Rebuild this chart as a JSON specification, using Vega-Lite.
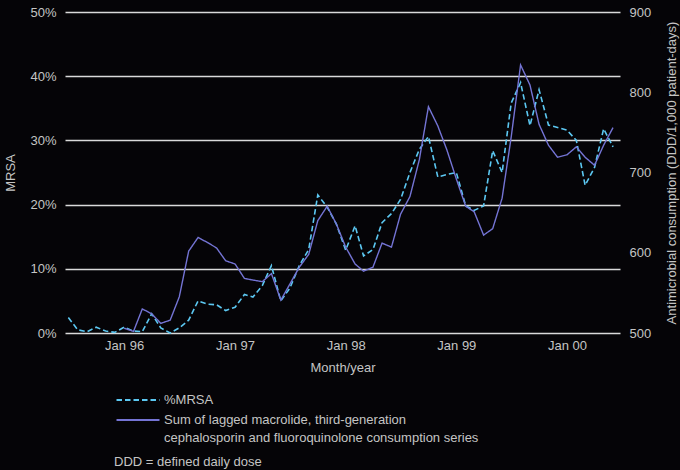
{
  "$schema": "https://vega.github.io/schema/vega-lite/v6.json",
  "autosize": "none",
  "width": 555,
  "height": 321,
  "padding": {"left": 65, "top": 12, "right": 60, "bottom": 137},
  "background": "#050407",
  "title": {
    "text": "DDD = defined daily dose",
    "orient": "bottom",
    "anchor": "start",
    "frame": "group",
    "dx": 49,
    "offset": 11,
    "fontSize": 13,
    "fontWeight": "normal",
    "color": "#c4c4c4",
    "font": "Liberation Sans"
  },
  "config": {
    "view": {"stroke": null},
    "font": "Liberation Sans",
    "axis": {
      "labelFont": "Liberation Sans",
      "titleFont": "Liberation Sans",
      "labelFontSize": 13,
      "titleFontSize": 13,
      "titleFontWeight": "normal",
      "labelColor": "#c4c4c4",
      "titleColor": "#c4c4c4",
      "domain": false,
      "ticks": false
    },
    "legend": {
      "labelFont": "Liberation Sans",
      "labelFontSize": 13,
      "labelColor": "#c4c4c4"
    }
  },
  "datasets": {
    "mrsa": [
      {"month": "1995-07-01", "mrsa": 2.4},
      {"month": "1995-08-01", "mrsa": 0.5},
      {"month": "1995-09-01", "mrsa": 0.2},
      {"month": "1995-10-01", "mrsa": 0.9},
      {"month": "1995-11-01", "mrsa": 0.3},
      {"month": "1995-12-01", "mrsa": 0.1},
      {"month": "1996-01-01", "mrsa": 0.9},
      {"month": "1996-02-01", "mrsa": 0.3},
      {"month": "1996-03-01", "mrsa": 0.2},
      {"month": "1996-04-01", "mrsa": 3.0},
      {"month": "1996-05-01", "mrsa": 0.8},
      {"month": "1996-06-01", "mrsa": 0.0},
      {"month": "1996-07-01", "mrsa": 0.8},
      {"month": "1996-08-01", "mrsa": 2.0},
      {"month": "1996-09-01", "mrsa": 5.0},
      {"month": "1996-10-01", "mrsa": 4.5},
      {"month": "1996-11-01", "mrsa": 4.4},
      {"month": "1996-12-01", "mrsa": 3.5},
      {"month": "1997-01-01", "mrsa": 4.0},
      {"month": "1997-02-01", "mrsa": 6.0},
      {"month": "1997-03-01", "mrsa": 5.6},
      {"month": "1997-04-01", "mrsa": 7.4},
      {"month": "1997-05-01", "mrsa": 10.5},
      {"month": "1997-06-01", "mrsa": 5.0},
      {"month": "1997-07-01", "mrsa": 7.0},
      {"month": "1997-08-01", "mrsa": 10.5},
      {"month": "1997-09-01", "mrsa": 13.0},
      {"month": "1997-10-01", "mrsa": 21.5},
      {"month": "1997-11-01", "mrsa": 19.6},
      {"month": "1997-12-01", "mrsa": 17.0},
      {"month": "1998-01-01", "mrsa": 12.9},
      {"month": "1998-02-01", "mrsa": 16.7},
      {"month": "1998-03-01", "mrsa": 12.0},
      {"month": "1998-04-01", "mrsa": 13.0},
      {"month": "1998-05-01", "mrsa": 17.2},
      {"month": "1998-06-01", "mrsa": 18.6},
      {"month": "1998-07-01", "mrsa": 20.8},
      {"month": "1998-08-01", "mrsa": 25.0},
      {"month": "1998-09-01", "mrsa": 28.6},
      {"month": "1998-10-01", "mrsa": 30.6},
      {"month": "1998-11-01", "mrsa": 24.3},
      {"month": "1998-12-01", "mrsa": 24.7},
      {"month": "1999-01-01", "mrsa": 25.0},
      {"month": "1999-02-01", "mrsa": 19.8},
      {"month": "1999-03-01", "mrsa": 19.1},
      {"month": "1999-04-01", "mrsa": 19.8},
      {"month": "1999-05-01", "mrsa": 28.4},
      {"month": "1999-06-01", "mrsa": 25.0},
      {"month": "1999-07-01", "mrsa": 35.8},
      {"month": "1999-08-01", "mrsa": 39.0},
      {"month": "1999-09-01", "mrsa": 32.3},
      {"month": "1999-10-01", "mrsa": 37.9},
      {"month": "1999-11-01", "mrsa": 32.4},
      {"month": "1999-12-01", "mrsa": 32.0},
      {"month": "2000-01-01", "mrsa": 31.6},
      {"month": "2000-02-01", "mrsa": 30.0},
      {"month": "2000-03-01", "mrsa": 23.0},
      {"month": "2000-04-01", "mrsa": 25.8},
      {"month": "2000-05-01", "mrsa": 31.8},
      {"month": "2000-06-01", "mrsa": 29.0}
    ],
    "ddd": [
      {"month": "1996-01-01", "ddd": 506},
      {"month": "1996-02-01", "ddd": 502},
      {"month": "1996-03-01", "ddd": 530},
      {"month": "1996-04-01", "ddd": 524},
      {"month": "1996-05-01", "ddd": 512},
      {"month": "1996-06-01", "ddd": 516},
      {"month": "1996-07-01", "ddd": 545},
      {"month": "1996-08-01", "ddd": 602},
      {"month": "1996-09-01", "ddd": 619},
      {"month": "1996-10-01", "ddd": 613},
      {"month": "1996-11-01", "ddd": 606},
      {"month": "1996-12-01", "ddd": 590},
      {"month": "1997-01-01", "ddd": 586},
      {"month": "1997-02-01", "ddd": 568},
      {"month": "1997-03-01", "ddd": 566},
      {"month": "1997-04-01", "ddd": 564},
      {"month": "1997-05-01", "ddd": 574},
      {"month": "1997-06-01", "ddd": 541},
      {"month": "1997-07-01", "ddd": 561},
      {"month": "1997-08-01", "ddd": 582},
      {"month": "1997-09-01", "ddd": 598},
      {"month": "1997-10-01", "ddd": 640},
      {"month": "1997-11-01", "ddd": 658},
      {"month": "1997-12-01", "ddd": 636},
      {"month": "1998-01-01", "ddd": 607},
      {"month": "1998-02-01", "ddd": 586},
      {"month": "1998-03-01", "ddd": 577},
      {"month": "1998-04-01", "ddd": 582},
      {"month": "1998-05-01", "ddd": 612},
      {"month": "1998-06-01", "ddd": 607},
      {"month": "1998-07-01", "ddd": 648},
      {"month": "1998-08-01", "ddd": 670},
      {"month": "1998-09-01", "ddd": 716},
      {"month": "1998-10-01", "ddd": 782},
      {"month": "1998-11-01", "ddd": 758},
      {"month": "1998-12-01", "ddd": 728},
      {"month": "1999-01-01", "ddd": 692},
      {"month": "1999-02-01", "ddd": 658},
      {"month": "1999-03-01", "ddd": 651},
      {"month": "1999-04-01", "ddd": 622},
      {"month": "1999-05-01", "ddd": 630},
      {"month": "1999-06-01", "ddd": 668},
      {"month": "1999-07-01", "ddd": 744},
      {"month": "1999-08-01", "ddd": 834},
      {"month": "1999-09-01", "ddd": 809},
      {"month": "1999-10-01", "ddd": 760},
      {"month": "1999-11-01", "ddd": 734},
      {"month": "1999-12-01", "ddd": 719},
      {"month": "2000-01-01", "ddd": 722},
      {"month": "2000-02-01", "ddd": 732},
      {"month": "2000-03-01", "ddd": 719},
      {"month": "2000-04-01", "ddd": 709},
      {"month": "2000-05-01", "ddd": 734},
      {"month": "2000-06-01", "ddd": 756}
    ]
  },
  "encoding": {
    "x": {
      "field": "month",
      "type": "temporal",
      "title": "Month/year",
      "scale": {
        "domain": [
          {"year": 1995, "month": 6, "date": 20},
          {"year": 2000, "month": 6, "date": 24}
        ]
      },
      "axis": {
        "values": [
          {"year": 1996, "month": 1, "date": 1},
          {"year": 1997, "month": 1, "date": 1},
          {"year": 1998, "month": 1, "date": 1},
          {"year": 1999, "month": 1, "date": 1},
          {"year": 2000, "month": 1, "date": 1}
        ],
        "format": "%b %y",
        "grid": false,
        "labelPadding": 6,
        "titlePadding": 9
      }
    }
  },
  "layer": [
    {
      "data": {"name": "mrsa"},
      "mark": {"type": "line", "strokeWidth": 1.6},
      "encoding": {
        "y": {
          "field": "mrsa",
          "type": "quantitative",
          "title": "MRSA",
          "scale": {"domain": [0, 50], "nice": false},
          "axis": {
            "values": [0, 10, 20, 30, 40, 50],
            "labelExpr": "datum.value + '%'",
            "grid": true,
            "gridColor": "#dadada",
            "gridWidth": 1.4,
            "labelPadding": 9,
            "titlePadding": 12
          }
        },
        "color": {
          "datum": "%MRSA",
          "type": "nominal",
          "scale": {
            "domain": ["%MRSA", "Sum of lagged macrolide, third-generation cephalosporin and fluoroquinolone consumption series"],
            "range": ["#5cc8f2", "#7474d4"]
          },
          "legend": {
            "title": null,
            "orient": "none",
            "legendX": 61,
            "legendY": 376,
            "symbolType": "M-2,0H2",
            "symbolSize": 462,
            "symbolStrokeWidth": 1.8,
            "symbolFillColor": "transparent",
            "labelOffset": 14,
            "labelLimit": 500,
            "gridAlign": "none",
            "rowPadding": 1,
            "labelExpr": "datum.label == '%MRSA' ? datum.label : ['Sum of lagged macrolide, third-generation', 'cephalosporin and fluoroquinolone consumption series']",
            "encode": {"labels": {"update": {"lineHeight": {"value": 18}}}}
          }
        },
        "strokeDash": {
          "datum": "%MRSA",
          "type": "nominal",
          "scale": {
            "domain": ["%MRSA", "Sum of lagged macrolide, third-generation cephalosporin and fluoroquinolone consumption series"],
            "range": [[5.5, 3], [1, 0]]
          },
          "legend": null
        }
      }
    },
    {
      "data": {"name": "ddd"},
      "mark": {"type": "line", "strokeWidth": 1.4},
      "encoding": {
        "y": {
          "field": "ddd",
          "type": "quantitative",
          "title": "Antimicrobial consumption (DDD/1,000 patient-days)",
          "scale": {"domain": [500, 900], "nice": false},
          "axis": {
            "orient": "right",
            "values": [500, 600, 700, 800, 900],
            "grid": false,
            "labelPadding": 9,
            "titleAngle": 270,
            "titlePadding": 28
          }
        },
        "color": {
          "datum": "Sum of lagged macrolide, third-generation cephalosporin and fluoroquinolone consumption series",
          "type": "nominal"
        },
        "strokeDash": {
          "datum": "Sum of lagged macrolide, third-generation cephalosporin and fluoroquinolone consumption series",
          "type": "nominal"
        }
      }
    }
  ],
  "resolve": {"scale": {"y": "independent"}}
}
